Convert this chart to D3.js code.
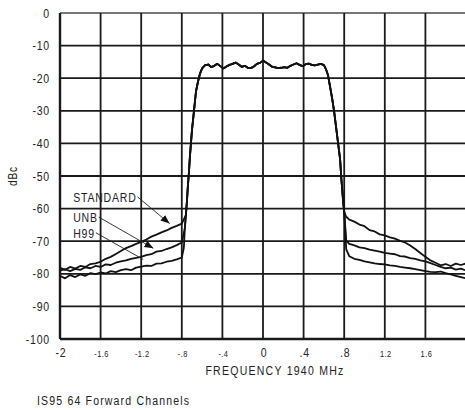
<!DOCTYPE html>
<html>
<head>
<meta charset="utf-8">
<script src="https://cdn.jsdelivr.net/npm/d3@7"></script>
<style>
  body { margin: 0; background: #fff; }
  text { font-family: "Liberation Sans", Arial, sans-serif; fill: #222; }
</style>
</head>
<body>
<svg id="chart" width="465" height="410"></svg>
<script>
// Achsen
const yTicks = [0, -10, -20, -30, -40, -50, -60, -70, -80, -90, -100];
const xTicks = [-2, -1.6, -1.2, -0.8, -0.4, 0, 0.4, 0.8, 1.2, 1.6, 2];
const xTickLabels = ["-2", "-1.6", "-1.2", "-.8", "-.4", "0", ".4", ".8", "1.2", "1.6", ""];
const bigTicks = ["-2", "0", ".4", ".8"];

// Flanken links (je Kurve)
const leftFreq = [-2, -1.95, -1.9, -1.85, -1.8, -1.75, -1.7, -1.65, -1.6, -1.55, -1.5, -1.45, -1.4,
  -1.35, -1.3, -1.25, -1.2, -1.15, -1.1, -1.05, -1, -0.95, -0.9, -0.85, -0.8];
const leftStandard = [-78.2, -78.8, -77.9, -78.4, -77.6, -77.9, -77.0, -76.8, -76.3, -75.4, -74.8, -73.9, -73.0,
  -72.1, -71.5, -70.8, -70.2, -69.5, -68.6, -68.0, -67.3, -66.7, -65.9, -65.3, -64.6];
const leftUnb = [-79.0, -78.6, -79.2, -78.5, -78.8, -78.0, -78.3, -77.6, -77.9, -77.1, -77.3, -76.6, -76.2,
  -75.9, -75.4, -75.1, -74.8, -74.3, -74.0, -73.2, -73.0, -72.4, -71.9, -71.2, -70.4];
const leftH99 = [-80.6, -81.4, -80.4, -81.0, -80.2, -80.6, -79.8, -80.1, -79.6, -79.9, -79.2, -79.5, -78.9,
  -78.6, -78.9, -78.1, -77.8, -77.5, -77.6, -76.9, -76.8, -76.3, -76.0, -75.6, -75.0];

// Gemeinsamer Kanal (Anstieg, Plateau, Abfall)
const coreFreq = [-0.78, -0.77, -0.76, -0.75, -0.74, -0.73, -0.72, -0.71, -0.7, -0.69, -0.68, -0.67, -0.66,
  -0.64, -0.62, -0.6, -0.57, -0.54, -0.51, -0.48, -0.45, -0.42, -0.39, -0.36, -0.33, -0.3, -0.27, -0.24,
  -0.21, -0.18, -0.15, -0.12, -0.09, -0.06, -0.03, 0, 0.03, 0.06, 0.09, 0.12, 0.15, 0.18, 0.21, 0.24, 0.27,
  0.3, 0.33, 0.36, 0.39, 0.42, 0.45, 0.48, 0.51, 0.54, 0.57, 0.6, 0.62, 0.64, 0.66, 0.68, 0.7, 0.72, 0.74,
  0.76, 0.77, 0.78, 0.79, 0.8];
const coreLevel = [-72, -66, -62, -58, -53, -49, -44, -40, -36, -33, -30, -27, -24,
  -21, -18.5, -17, -16, -15.8, -16.6, -16.2, -15.6, -16.3, -17.0, -16.4, -15.9, -15.6, -15.2, -15.8,
  -16.5, -16.2, -16.8, -16.9, -16.4, -15.6, -15.3, -14.6, -15.2, -15.8, -16.5, -16.7, -16.9, -16.8, -16.6, -16.8, -16.2,
  -15.8, -15.4, -15.9, -16.3, -15.7, -15.5, -15.9, -16.1, -15.8, -15.6, -16.0, -17.2, -19, -22.5, -26, -30, -35, -40,
  -45, -50, -54, -58, -61];

// Flanken rechts (je Kurve)
const rightFreq = [0.82, 0.85, 0.9, 0.95, 1, 1.05, 1.1, 1.15, 1.2, 1.25, 1.3, 1.35, 1.4, 1.45, 1.5,
  1.55, 1.6, 1.65, 1.7, 1.75, 1.8, 1.85, 1.9, 1.95, 2];
const rightStandard = [-62.5, -63.4, -64.0, -64.9, -65.4, -66.6, -67.0, -67.9, -68.2, -68.8, -69.2, -69.9, -70.4,
  -71.3, -72.4, -73.6, -74.8, -75.9, -76.6, -77.4, -77.0, -77.6, -76.9, -77.3, -76.8];
const rightUnb = [-69.8, -70.8, -71.3, -71.9, -72.1, -72.6, -72.9, -73.2, -73.6, -73.8, -74.0, -74.6, -74.7,
  -75.2, -75.4, -75.9, -76.2, -76.7, -77.3, -77.9, -78.3, -78.1, -78.7, -78.4, -79.0];
const rightH99 = [-72.5, -74.6, -75.4, -75.7, -76.2, -76.5, -76.8, -77.0, -77.1, -77.4, -77.6, -77.9, -78.1,
  -78.3, -78.6, -78.9, -79.2, -79.4, -79.5, -79.3, -79.8, -80.2, -80.6, -81.0, -81.4];

// Beschriftungen der Kurven: Textposition und Pfeilziel (Frequenz, dBc)
const seriesNames = ["STANDARD", "UNB", "H99"];
const labelAt = [[-1.87, -56.4], [-1.87, -62.6], [-1.87, -67.4]];
const pointerTo = [[-0.92, -64.6], [-1.08, -72.2], [-1.18, -75.6]];

const svg = d3.select("#chart");
const x = d3.scaleLinear().domain([-2, 2]).range([60, 466]);
const y = d3.scaleLinear().domain([0, -100]).range([13, 339]);
const narrow = 0.78; // schmale Schrift nachbilden

// Text in schmaler Schrift
function addText(parent, tx, ty, str, size, anchor, spacing) {
  return parent.append("text")
    .attr("transform", `translate(${tx},${ty}) scale(${narrow},1)`)
    .attr("text-anchor", anchor || "start")
    .attr("font-size", size + "px")
    .attr("letter-spacing", (spacing || 0) + "px")
    .text(str);
}

// Kurven zusammensetzen
function buildSeries(left, right) {
  const tailEnd = left[left.length - 1];
  const pts = leftFreq.map((f, i) => [f, left[i]]);
  coreFreq.forEach((f, i) => {
    if (f > -0.6 || coreLevel[i] > tailEnd) pts.push([f, coreLevel[i]]);
  });
  rightFreq.forEach((f, i) => pts.push([f, right[i]]));
  return pts;
}
const series = [
  buildSeries(leftStandard, rightStandard),
  buildSeries(leftUnb, rightUnb),
  buildSeries(leftH99, rightH99)
];

// Gitter
svg.append("g")
  .selectAll("line")
  .data(yTicks)
  .join("line")
  .attr("x1", x(-2)).attr("x2", x(2))
  .attr("y1", d => y(d)).attr("y2", d => y(d))
  .attr("stroke", d => d === 0 ? "#777" : "#1a1a1a")
  .attr("stroke-width", d => d === -100 ? 2.4 : 1.8);

svg.append("g")
  .selectAll("line")
  .data(xTicks)
  .join("line")
  .attr("x1", d => x(d)).attr("x2", d => x(d))
  .attr("y1", y(0)).attr("y2", y(-100))
  .attr("stroke", "#1a1a1a")
  .attr("stroke-width", d => d === -2 ? 2.4 : 1.8);

// Achsenbeschriftung Y
const yLab = svg.append("g");
yTicks.forEach(d => addText(yLab, 50, y(d) + 4.5, d, 13.5, "end", 1));

// Achsenbeschriftung X
const xLab = svg.append("g");
xTicks.forEach((d, i) => {
  const big = bigTicks.includes(xTickLabels[i]);
  addText(xLab, x(d) + 1, 357, xTickLabels[i], big ? 13.5 : 9.5, "middle", big ? 1 : 0.6);
});

addText(svg, 275, 375, "FREQUENCY 1940 MHz", 13.5, "middle", 1.6);
addText(svg, 37, 405, "IS95 64 Forward Channels", 13.5, "start", 1.5);

svg.append("text")
  .attr("transform", `translate(17,176) rotate(-90) scale(${narrow},1)`)
  .attr("text-anchor", "middle")
  .attr("font-size", "13px")
  .attr("letter-spacing", "1px")
  .text("dBc");

// Kurven
const line = d3.line().x(d => x(d[0])).y(d => y(d[1]));
svg.append("g")
  .selectAll("path")
  .data(series)
  .join("path")
  .attr("d", line)
  .attr("fill", "none")
  .attr("stroke", "#111")
  .attr("stroke-width", 1.8)
  .attr("stroke-linejoin", "round");

// Pfeilspitze
svg.append("defs").append("marker")
  .attr("id", "tip")
  .attr("viewBox", "0 0 10 10")
  .attr("refX", 10).attr("refY", 5)
  .attr("markerWidth", 9).attr("markerHeight", 9)
  .attr("markerUnits", "userSpaceOnUse")
  .attr("orient", "auto")
  .append("path")
  .attr("d", "M0,1 L10,5 L0,9 Z")
  .attr("fill", "#111");

// Kurvenbeschriftung mit Zeigern
const labels = svg.append("g");
seriesNames.forEach((name, i) => {
  const t = addText(labels, x(labelAt[i][0]), y(labelAt[i][1]) + 5, name, 13.5, "start", 1);
  const w = t.node().getComputedTextLength() * narrow;
  labels.append("line")
    .attr("x1", x(labelAt[i][0]) + w + 1)
    .attr("y1", y(labelAt[i][1]))
    .attr("x2", x(pointerTo[i][0]))
    .attr("y2", y(pointerTo[i][1]))
    .attr("stroke", "#222")
    .attr("stroke-width", 0.9)
    .attr("marker-end", i < 2 ? "url(#tip)" : null);
});
</script>
</body>
</html>
